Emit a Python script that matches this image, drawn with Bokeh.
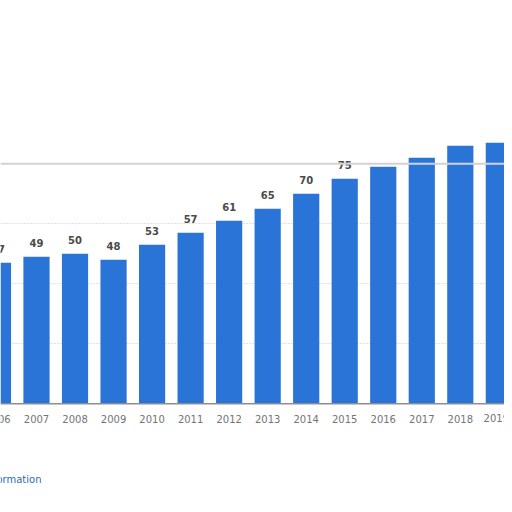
from bokeh.plotting import figure
from bokeh.models import ColumnDataSource, Range1d, Label, FixedTicker, Span
from bokeh.embed import file_html
from bokeh.resources import INLINE
from bokeh.core.properties import value

# ---- data ----
years = ["2006", "2007", "2008", "2009", "2010", "2011", "2012",
         "2013", "2014", "2015", "2016", "2017", "2018", "2019*"]
values = [47, 49, 50, 48, 53, 57, 61, 65, 70, 75, 79, 82, 86, 87]
labelled_count = 10          # value labels visible in the reference (2006-2015)
grid_values = [20, 40, 60]
top_grid_value = 80
footer_text = "Additional Information"

idx = list(range(len(years)))
src = ColumnDataSource(dict(x=idx, v=values, year=years,
                            zero=[0] * len(years)))
lab_src = ColumnDataSource(dict(x=idx[:labelled_count],
                                v=values[:labelled_count],
                                t=[str(v) for v in values[:labelled_count]]))

p = figure(width=504, height=504,
           x_range=Range1d(0.0657, 13.147), y_range=Range1d(-33.57, 134.43),
           output_backend="svg", toolbar_location=None,
           min_border=0, outline_line_color=None)
p.background_fill_color = "white"
p.border_fill_color = "white"
p.axis.visible = False
p.xgrid.visible = False
p.ygrid.ticker = FixedTicker(ticks=grid_values)
p.ygrid.grid_line_color = "#c4c4c4"
p.ygrid.grid_line_dash = "1 2"
p.ygrid.grid_line_width = 1

p.add_layout(Span(location=top_grid_value, dimension="width",
                  line_color="#d2d2d2", line_width=2))

p.vbar(x="x", top="v", bottom=0, width=0.68, source=src,
       fill_color="#2a74d8", line_color=None)

p.add_layout(Span(location=0, dimension="width",
                  line_color="#8e8e8e", line_width=1.5))

p.text(x="x", y="v", text="t", source=lab_src,
       text_font=value("DejaVu Sans"), text_font_style="bold",
       text_font_size="10px", text_color="#4a4a4a",
       text_align="center", text_baseline="middle", y_offset=-14)

p.text(x="x", y="zero", text="year", source=src,
       text_font=value("DejaVu Sans"), text_font_size="10px",
       text_color="#747474", text_align="center", text_baseline="middle",
       y_offset=15)

p.add_layout(Label(x=41, y=25, x_units="screen", y_units="screen",
                   text=footer_text, text_font="DejaVu Sans",
                   text_font_size="10px", text_color="#2a6db5",
                   text_align="right", text_baseline="middle"))

open("out.html", "w").write(file_html(p, INLINE))
